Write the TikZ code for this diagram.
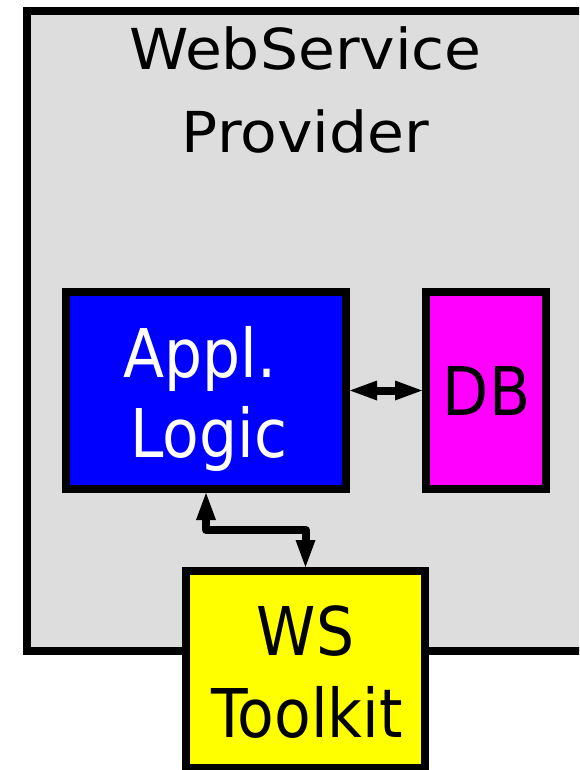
\documentclass[tikz,border=0pt]{standalone}
\usepackage{fontspec}
\setmainfont{DejaVu Sans}
\usetikzlibrary{arrows.meta}
\definecolor{panelgray}{RGB}{221,221,221}
\definecolor{applblue}{RGB}{0,0,255}
\definecolor{dbmagenta}{RGB}{255,0,255}
\definecolor{wsyellow}{RGB}{255,255,0}
\tikzset{
  frame/.style={draw=black, line width=8pt, rectangle, inner sep=0pt, line join=miter},
  bigtxt/.style={anchor=base, inner sep=0pt, font=\fontsize{60}{72}\selectfont},
  headtip/.tip={Triangle[length=27pt,width=20pt,line width=0pt]},
  link/.style={line width=8pt, line join=round, arrows={headtip-headtip}},
}
% title lines are a little flatter, box labels a little taller
\newcommand{\flatword}[1]{\scalebox{1}[0.94]{#1}}
\newcommand{\tallword}[1]{\scalebox{1}[1.12]{#1}}
\begin{document}
\begin{tikzpicture}[x=1pt,y=-1pt]
  \useasboundingbox (0,0) rectangle (579,770);
  \clip (0,0) rectangle (579,770);

  % provider panel (extends past the right edge)
  \node[frame, fill=panelgray, minimum width=600pt, minimum height=640pt] (provider) at (326.5,331) {};
  \node[bigtxt] (provtitle1) at (305.5,70) {\flatword{WebService}};
  \node[bigtxt] (provtitle2) at (305.5,153) {\flatword{Provider}};

  % application logic
  \node[frame, fill=applblue, minimum width=280pt, minimum height=197pt] (appl) at (206,390.5) {};
  \node[bigtxt, text=white] (appltxt1) at (200,377) {\tallword{Appl.}};
  \node[bigtxt, text=white] (appltxt2) at (209,457) {\tallword{Logic}};

  % database
  \node[frame, fill=dbmagenta, minimum width=120pt, minimum height=197pt] (db) at (486,390.5) {};
  \node[bigtxt] (dbtxt) at (486.5,415) {\tallword{DB}};

  % web service toolkit
  \node[frame, fill=wsyellow, minimum width=239pt, minimum height=197pt] (ws) at (305.5,669.5) {};
  \node[bigtxt] (wstxt1) at (305.5,655) {\tallword{WS}};
  \node[bigtxt] (wstxt2) at (307,737) {\tallword{Toolkit}};

  % connectors
  \draw[link] (appl.east) -- (db.west);
  \draw[link] (appl.south) -- ++(0,37) -| (ws.north);
\end{tikzpicture}
\end{document}
